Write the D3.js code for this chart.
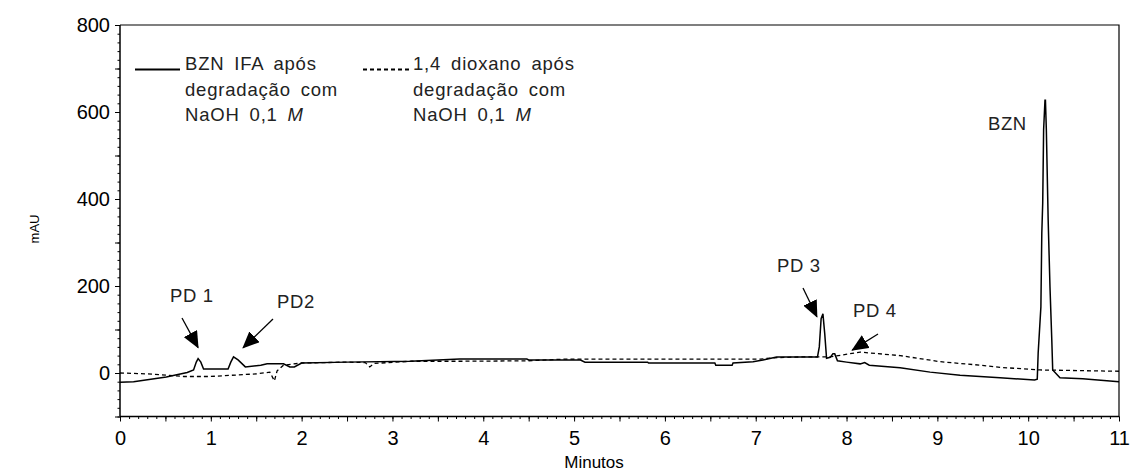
<!DOCTYPE html>
<html>
<head>
<meta charset="utf-8">
<script src="https://cdn.jsdelivr.net/npm/d3@7"></script>
<style>
  html, body { margin: 0; padding: 0; background: #fff; }
  svg { display: block; font-family: "Liberation Sans", Arial, sans-serif; }
</style>
</head>
<body>
<svg id="chart" width="1132" height="471"></svg>
<script>
// ---- data (time in minutes, absorbance in mAU) ----
const solidTime = [0, 0.15, 0.51, 0.74, 0.81, 0.84, 0.86, 0.89, 0.92, 1.19, 1.22, 1.25, 1.30, 1.38, 1.55, 1.62, 1.80, 1.87, 1.92, 2.0, 2.5, 3.2, 3.74, 4.48, 4.5, 5.07, 5.12, 5.81, 5.82, 6.55, 6.56, 6.74, 6.75, 6.97, 7.08, 7.23, 7.68, 7.70, 7.72, 7.74, 7.76, 7.78, 7.82, 7.85, 7.87, 7.90, 8.0, 8.15, 8.2, 8.25, 8.59, 8.92, 9.25, 9.69, 10.07, 10.10, 10.11, 10.14, 10.15, 10.16, 10.17, 10.185, 10.19, 10.20, 10.22, 10.24, 10.26, 10.27, 10.35, 10.6, 11.0];
const solidValue = [-21, -20, -9, 1, 7, 25, 33, 25, 9, 9, 25, 37, 30, 14, 18, 21, 21, 14, 14, 23, 25, 27, 32, 32, 30, 30, 25, 25, 23, 23, 18, 18, 23, 26, 30, 37, 37, 60, 125, 136, 90, 34, 36, 44, 44, 28, 25, 21, 24, 18, 12, 2, -5, -11, -16, -14, 46, 152, 322, 391, 559, 627, 627, 559, 352, 198, 76, 7, -11, -13, -20];

const dashTime = [0, 0.3, 0.7, 1.0, 1.5, 1.65, 1.68, 1.70, 1.73, 1.8, 2.0, 2.5, 2.70, 2.75, 2.8, 3.2, 3.74, 4.48, 4.9, 7.05, 7.2, 7.5, 7.82, 8.15, 8.59, 9.03, 9.47, 9.69, 10.13, 11.0];
const dashValue = [0, -2, -8, -8, -2, 2, -10, -18, 5, 18, 23, 25, 24, 14, 22, 27, 27, 28, 32, 32, 35, 37, 37, 48, 40, 26, 18, 13, 7, 4];

const xTickLabels = [0, 1, 2, 3, 4, 5, 6, 7, 8, 9, 10, 11];
const yTickLabels = [0, 200, 400, 600, 800];
const legendSolid = ["BZN IFA após", "degradação com", "NaOH 0,1 "];
const legendDash = ["1,4 dioxano após", "degradação com", "NaOH 0,1 "];
const annotations = [
  { text: "PD 1", t: 0.86, v: 33 },
  { text: "PD2", t: 1.25, v: 37 },
  { text: "PD 3", t: 7.74, v: 136 },
  { text: "PD 4", t: 8.15, v: 48 }
];

// ---- layout ----
const svg = d3.select("#chart");
const x = d3.scaleLinear().domain([0, 11]).range([120, 1119]);
const y = d3.scaleLinear().domain([-100, 800]).range([416.5, 25]);

const font = "Liberation Sans, Arial, sans-serif";

// Frame (top + right)
svg.append("path")
  .attr("d", `M${x(0)},${y(800)}H${x(11)}V${y(-100)}`)
  .attr("fill", "none").attr("stroke", "#000").attr("stroke-width", 1.2);

// Y axis
const yMinor = d3.range(-100, 801, 20);
const yMid = d3.range(-100, 801, 100);
const gy = svg.append("g").attr("transform", `translate(${x(0)},0)`);
gy.call(d3.axisLeft(y).tickValues(yMinor).tickSize(2.5).tickFormat(""));
const gy2 = svg.append("g").attr("transform", `translate(${x(0)},0)`);
gy2.call(d3.axisLeft(y).tickValues(yMid).tickSize(5).tickFormat(d => yTickLabels.includes(d) ? d : "").tickPadding(5));
gy2.selectAll("text").attr("font-size", 20).attr("font-family", font).attr("fill", "#000").attr("dy", "0.34em");

// X axis
const xMinor = d3.range(0, 110.5, 1).map(d => d / 10);
const xMid = d3.range(0, 22.5, 1).map(d => d / 2);
const gx = svg.append("g").attr("transform", `translate(0,${y(-100)})`);
gx.call(d3.axisBottom(x).tickValues(xMinor).tickSize(2.5).tickFormat(""));
const gx2 = svg.append("g").attr("transform", `translate(0,${y(-100)})`);
gx2.call(d3.axisBottom(x).tickValues(xMid).tickSize(5).tickPadding(9).tickFormat(d => xTickLabels.includes(d) ? d : ""));
gx2.selectAll("text").attr("font-size", 20).attr("font-family", font).attr("fill", "#000");
svg.selectAll(".domain").remove();
svg.append("line").attr("x1", x(0)).attr("x2", x(0)).attr("y1", y(800)).attr("y2", y(-100)).attr("stroke", "#000").attr("stroke-width", 1.5);
svg.append("line").attr("x1", x(0)).attr("x2", x(11)).attr("y1", y(-100)).attr("y2", y(-100)).attr("stroke", "#000").attr("stroke-width", 1.5);
svg.selectAll(".tick line").attr("stroke", "#000").attr("stroke-width", 1);

// Axis titles
svg.append("text").attr("x", 594).attr("y", 468).attr("text-anchor", "middle")
  .attr("font-size", 17).attr("font-family", font).text("Minutos");
svg.append("text").attr("transform", "translate(39,229) rotate(-90)").attr("text-anchor", "middle")
  .attr("font-size", 13).attr("font-family", font).text("mAU");

// Lines
const line = d3.line().x(d => x(d[0])).y(d => y(d[1]));
const solidData = solidTime.map((t, i) => [t, solidValue[i]]);
const dashData = dashTime.map((t, i) => [t, dashValue[i]]);
svg.append("path").datum(dashData).attr("d", line).attr("fill", "none")
  .attr("stroke", "#000").attr("stroke-width", 1.3).attr("stroke-dasharray", "4,3");
svg.append("path").datum(solidData).attr("d", line).attr("fill", "none")
  .attr("stroke", "#000").attr("stroke-width", 1.5);

// Legend
function legendBlock(lx1, lx2, tx, rows, dashed) {
  svg.append("line").attr("x1", lx1).attr("x2", lx2).attr("y1", 69.5).attr("y2", 69.5)
    .attr("stroke", "#000").attr("stroke-width", 2).attr("stroke-dasharray", dashed ? "4,3" : null);
  const t = svg.append("text").attr("font-size", 18.5).attr("font-family", font)
    .attr("fill", "#222").style("letter-spacing", "0.8px").style("word-spacing", "4px");
  rows.forEach((r, i) => {
    const ts = t.append("tspan").attr("x", tx).attr("y", 70 + i * 25.5).text(r);
    if (i === 2) ts.append("tspan").attr("font-style", "italic").text("M");
  });
}
legendBlock(135, 180, 185, legendSolid, false);
legendBlock(363, 411, 413, legendDash, true);

// Annotations with arrows
svg.append("defs").append("marker").attr("id", "ah").attr("viewBox", "0 0 17 15")
  .attr("refX", 16).attr("refY", 7.5).attr("markerWidth", 17).attr("markerHeight", 15)
  .attr("markerUnits", "userSpaceOnUse").attr("orient", "auto")
  .append("path").attr("d", "M0,0L17,7.5L0,15Z").attr("fill", "#000");

const annoLayout = [
  { tx: 170, ty: 302, x1: 182, y1: 318, dx: 0, dy: -11 },
  { tx: 277, ty: 308, x1: 273, y1: 319, dx: 9.5, dy: -9 },
  { tx: 777, ty: 272, x1: 803, y1: 288, dx: -6, dy: 3 },
  { tx: 853, ty: 317, x1: 878, y1: 334, dx: -8, dy: -2 }
];
annotations.forEach((a, i) => {
  const L = annoLayout[i];
  svg.append("text").attr("x", L.tx).attr("y", L.ty).attr("font-size", 18.5)
    .attr("font-family", font).attr("fill", "#222").style("letter-spacing", "0.6px").text(a.text);
  svg.append("line").attr("x1", L.x1).attr("y1", L.y1)
    .attr("x2", x(a.t) + L.dx).attr("y2", y(a.v) + L.dy)
    .attr("stroke", "#000").attr("stroke-width", 1.3).attr("marker-end", "url(#ah)");
});
svg.append("text").attr("x", 988).attr("y", 130).attr("font-size", 18.5)
  .attr("font-family", font).attr("fill", "#222").style("letter-spacing", "0.6px").text("BZN");
</script>
</body>
</html>
